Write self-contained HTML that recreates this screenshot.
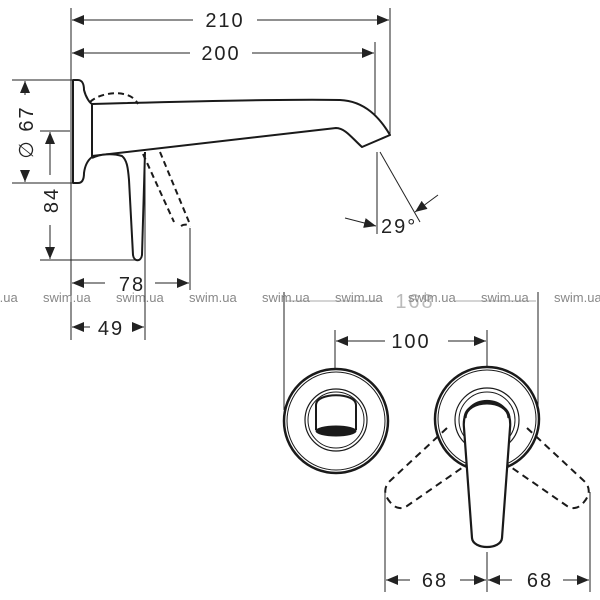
<!DOCTYPE html>
<html><head><meta charset="utf-8"><style>
html,body{margin:0;padding:0;background:#fff;width:600px;height:600px;overflow:hidden}
svg{display:block}
text{font-family:"Liberation Sans",sans-serif;fill:#222}
</style></head><body>
<svg width="600" height="600" viewBox="0 0 600 600" xmlns="http://www.w3.org/2000/svg">
<defs>
<marker id="a" viewBox="0 0 12 10" refX="12" refY="5" markerWidth="12" markerHeight="10" markerUnits="userSpaceOnUse" orient="auto-start-reverse"><path d="M0,0 L12,5 L0,10 z" fill="#222"/></marker>
</defs>
<g stroke="#222" stroke-width="1" fill="none">
<line x1="71" y1="8" x2="71" y2="340"/>
<line x1="390" y1="8" x2="390" y2="135"/>
<line x1="375" y1="42" x2="375" y2="120"/>
<line x1="377" y1="152" x2="377" y2="234"/>
<line x1="12" y1="80" x2="72" y2="80"/>
<line x1="12" y1="183" x2="72" y2="183"/>
<line x1="40" y1="131" x2="70" y2="131"/>
<line x1="40" y1="260" x2="135" y2="260"/>
<line x1="145" y1="152" x2="145" y2="340"/>
<line x1="190" y1="228" x2="190" y2="290"/>
<line x1="380" y1="152" x2="420" y2="222"/>
<line x1="72" y1="20" x2="193" y2="20" marker-start="url(#a)"/>
<line x1="257" y1="20" x2="389" y2="20" marker-end="url(#a)"/>
<line x1="72" y1="53" x2="190" y2="53" marker-start="url(#a)"/>
<line x1="252" y1="53" x2="374" y2="53" marker-end="url(#a)"/>
<line x1="25" y1="81" x2="25" y2="95" marker-start="url(#a)"/>
<line x1="25" y1="170" x2="25" y2="182" marker-end="url(#a)"/>
<line x1="50" y1="132" x2="50" y2="175" marker-start="url(#a)"/>
<line x1="50" y1="225" x2="50" y2="259" marker-end="url(#a)"/>
<line x1="72" y1="283" x2="105" y2="283" marker-start="url(#a)"/>
<line x1="155" y1="283" x2="189" y2="283" marker-end="url(#a)"/>
<line x1="72" y1="327" x2="90" y2="327" marker-start="url(#a)"/>
<line x1="132" y1="327" x2="144" y2="327" marker-end="url(#a)"/>
<line x1="345" y1="218" x2="376" y2="226" marker-end="url(#a)"/>
<line x1="438" y1="195" x2="415" y2="212" marker-end="url(#a)"/>
</g>
<g stroke="#1a1a1a" stroke-width="2" fill="#fff" stroke-linejoin="round">
<path d="M88,105 L92,104 C200,101 300,99 340,100 C365,101 380,118 390,135 L362,147 C352,138 345,128 336,128 L92,156 Z"/>
<path d="M92,158 C100,154 112,153 122,156 C127,160 128,168 129,180 L133,255 C134,262 141,262 142,255 L145,152"/>
<path d="M73,80 L78,80 C82,80 84,84 84,90 C86,98 90,103 92,104 L92,157 C88,160 85,165 84,173 C84,180 82,183 78,183 L73,183 Z"/>
</g>
<g stroke="#1a1a1a" stroke-width="2" fill="none" stroke-dasharray="6,4">
<path d="M90,102 C100,92 130,88 138,104"/>
<path d="M143,154 L174,222"/>
<path d="M160,152 L189,222"/>
<path d="M181,226 C184,224 188,224 190,227"/>
</g>
<g font-size="20" letter-spacing="2">
<text x="225" y="27" text-anchor="middle">210</text>
<text x="221" y="60" text-anchor="middle">200</text>
<text x="132" y="291" text-anchor="middle">78</text>
<text x="111" y="335" text-anchor="middle">49</text>
<text x="381" y="233">29°</text>
<text transform="translate(33,132) rotate(-90)" text-anchor="middle">∅ 67</text>
<text transform="translate(58,200) rotate(-90)" text-anchor="middle">84</text>
</g>
<g stroke="#aaa" stroke-width="1" fill="none">
<line x1="286" y1="301" x2="380" y2="301"/>
<line x1="455" y1="301" x2="536" y2="301"/>
</g>
<text x="415" y="308" font-size="20" text-anchor="middle" style="fill:#bbb" letter-spacing="2">168</text>
<g stroke="#222" stroke-width="1" fill="none">
<line x1="284" y1="292" x2="284" y2="410"/>
<line x1="538" y1="292" x2="538" y2="410"/>
<line x1="335" y1="330" x2="335" y2="368"/>
<line x1="487" y1="330" x2="487" y2="368"/>
<line x1="336" y1="341" x2="385" y2="341" marker-start="url(#a)"/>
<line x1="448" y1="341" x2="486" y2="341" marker-end="url(#a)"/>
<line x1="385" y1="492" x2="385" y2="592"/>
<line x1="487" y1="552" x2="487" y2="592"/>
<line x1="590" y1="492" x2="590" y2="592"/>
<line x1="386" y1="580" x2="410" y2="580" marker-start="url(#a)"/>
<line x1="460" y1="580" x2="486" y2="580" marker-end="url(#a)"/>
<line x1="488" y1="580" x2="512" y2="580" marker-start="url(#a)"/>
<line x1="563" y1="580" x2="589" y2="580" marker-end="url(#a)"/>
</g>
<g font-size="20" letter-spacing="2">
<text x="411" y="348" text-anchor="middle">100</text>
<text x="435" y="587" text-anchor="middle">68</text>
<text x="540" y="587" text-anchor="middle">68</text>
</g>
<g stroke="#1a1a1a" fill="#fff">
<circle cx="336" cy="421" r="52" stroke-width="2.5"/>
<circle cx="336" cy="421" r="49" stroke-width="1"/>
<circle cx="336" cy="420" r="31" stroke-width="1.2"/>
<circle cx="336" cy="420" r="28" stroke-width="1"/>
<path d="M316,430 L316,405 C316,392 356,392 356,405 L356,430" stroke-width="2"/>
<ellipse cx="336" cy="431" rx="20" ry="5" fill="#1a1a1a"/>
<circle cx="487" cy="419" r="52" stroke-width="2.5"/>
<circle cx="487" cy="419" r="49" stroke-width="1"/>
<circle cx="487" cy="420" r="32" stroke-width="1.2"/>
<circle cx="487" cy="420" r="28" stroke-width="1"/>
</g>
<g stroke="#1a1a1a" stroke-width="2" fill="none" stroke-dasharray="7,5">
<path d="M447,428 L391,480 C383,487 384,495 390,502 C395,508 400,510 407,506 L505,438"/>
<path d="M527,428 L583,480 C591,487 590,495 584,502 C579,508 574,510 567,506 L469,438"/>
</g>
<path d="M464,428 C460,392 514,392 510,428 L502,538 C501,550 473,550 472,538 Z" stroke="#1a1a1a" stroke-width="2.2" fill="#fff"/>
<path d="M465,418 C466,398 508,398 509,418" stroke="#1a1a1a" stroke-width="3" fill="none"/>
<g font-size="13">
<text x="-30" y="302" style="fill:#888">swim.ua</text>
<text x="43" y="302" style="fill:#888">swim.ua</text>
<text x="116" y="302" style="fill:#888">swim.ua</text>
<text x="189" y="302" style="fill:#888">swim.ua</text>
<text x="262" y="302" style="fill:#888">swim.ua</text>
<text x="335" y="302" style="fill:#888">swim.ua</text>
<text x="408" y="302" style="fill:#888">swim.ua</text>
<text x="481" y="302" style="fill:#888">swim.ua</text>
<text x="554" y="302" style="fill:#888">swim.ua</text>
</g>
</svg>
</body></html>
